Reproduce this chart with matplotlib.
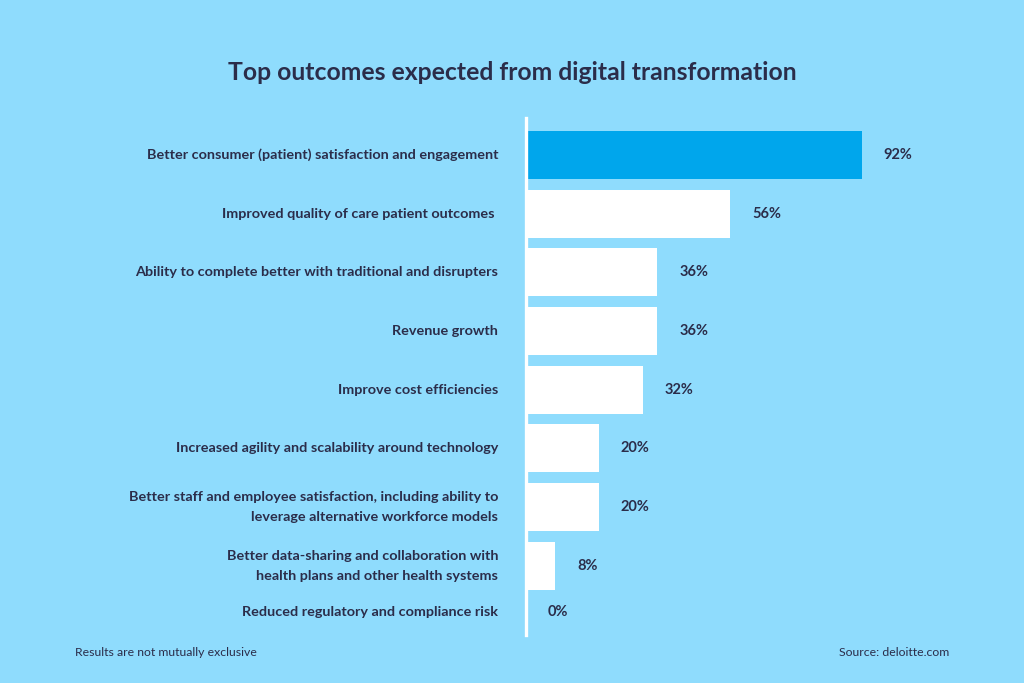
import matplotlib.pyplot as plt
import numpy as np

categories = [
    "Better consumer (patient) satisfaction and engagement",
    "Improved quality of care patient outcomes ",
    "Ability to complete better with traditional and disrupters",
    "Revenue growth",
    "Improve cost efficiencies",
    "Increased agility and scalability around technology",
    "Better staff and employee satisfaction, including ability to\nleverage alternative workforce models",
    "Better data-sharing and collaboration with\nhealth plans and other health systems",
    "Reduced regulatory and compliance risk",
]
values = [92, 56, 36, 36, 32, 20, 20, 8, 0]
value_labels = ["92%", "56%", "36%", "36%", "32%", "20%", "20%", "8%", "0%"]

bg = "#8fdcfd"
text_col = "#2b2d4a"
highlight = "#00a6ec"

plt.rcParams['font.family'] = ['Lato', 'DejaVu Sans']

fig = plt.figure(figsize=(10.24, 6.83), dpi=100, facecolor=bg)
ax = fig.add_axes([526 / 1024, 1 - 635 / 683, 365 / 1024, 517 / 683])
ax.set_facecolor(bg)

pos = np.arange(len(values), dtype=float)
pos[-1] -= 0.22  # last row sits a little closer
colors = [highlight] + ["white"] * (len(values) - 1)
ax.barh(pos, values, height=0.82, color=colors)

ax.set_xlim(0, 100)
ax.set_ylim(8.18, -0.63)

for p, v, lab, cat in zip(pos, values, value_labels, categories):
    ax.text(v + 6, p, lab, va="center", ha="left", fontsize=10.5,
            fontweight="bold", color=text_col)
    ax.text(-7.6, p, cat, va="center", ha="right", fontsize=10.4,
            fontweight="bold", color=text_col, linespacing=1.8)

for s in ["top", "right", "bottom"]:
    ax.spines[s].set_visible(False)
ax.spines["left"].set_color("white")
ax.spines["left"].set_linewidth(2.4)
ax.set_xticks([])
ax.set_yticks([])

fig.text(0.5, 1 - 73 / 683, "Top outcomes expected from digital transformation",
         ha="center", va="center", fontsize=17.8, fontweight="bold", color=text_col)
fig.text(75 / 1024, 1 - 652 / 683, "Results are not mutually exclusive",
         ha="left", va="center", fontsize=8.8, color=text_col)
fig.text(949 / 1024, 1 - 652 / 683, "Source: deloitte.com",
         ha="right", va="center", fontsize=8.8, color=text_col)

fig.savefig("out.png", dpi=100, facecolor=bg)
